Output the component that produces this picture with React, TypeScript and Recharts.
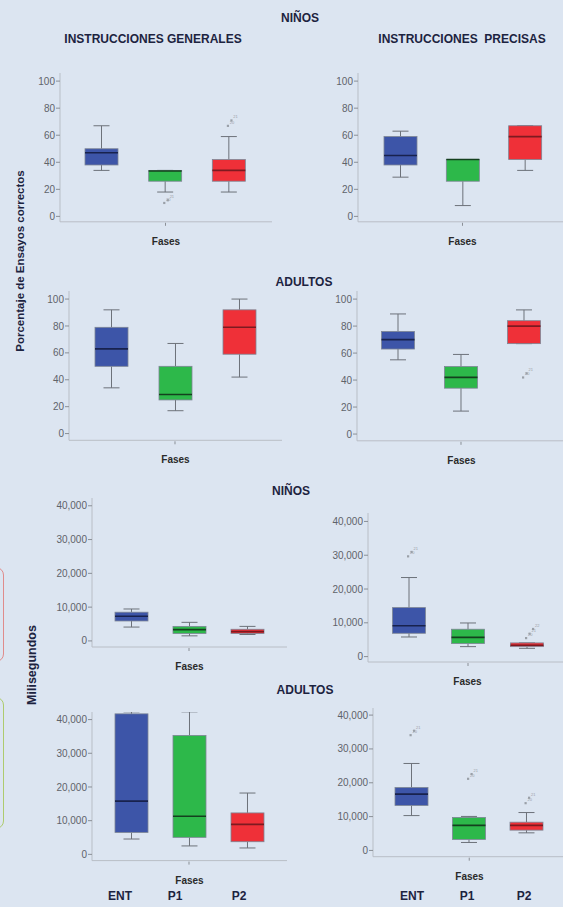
import React from 'react';
import { ComposedChart, Bar, XAxis, YAxis } from 'recharts';

// ---------- DATA ----------
const phases = ['ENT', 'P1', 'P2'];
// panel order: 0 Niños-generales %, 1 Niños-precisas %, 2 Adultos-generales %, 3 Adultos-precisas %,
//              4 Niños-generales ms, 5 Niños-precisas ms, 6 Adultos-generales ms, 7 Adultos-precisas ms
const whiskerLow = [
  [34, 18, 18],
  [29, 8, 34],
  [34, 17, 42],
  [55, 17, 67],
  [4100, 1500, 1900],
  [5800, 2950, 2450],
  [4550, 2500, 1900],
  [10300, 2350, 5200],
];
const quartile1 = [
  [38, 26, 26],
  [38, 26, 42],
  [50, 25, 59],
  [63, 34, 67],
  [5900, 2200, 2200],
  [6900, 3850, 2950],
  [6500, 5050, 3750],
  [13300, 3250, 6000],
];
const medians = [
  [47, 33.5, 34],
  [45, 42, 59],
  [63, 29, 79],
  [70, 42, 80],
  [7300, 3350, 2750],
  [9150, 5700, 3350],
  [15800, 11300, 8900],
  [16650, 7400, 7400],
];
const quartile3 = [
  [50, 34, 42],
  [59, 42, 67],
  [79, 50, 92],
  [76, 50, 84],
  [8500, 4300, 3450],
  [14500, 8100, 4050],
  [41700, 35300, 12300],
  [18600, 9750, 8350],
];
const whiskerHigh = [
  [67, 34, 59],
  [63, 42, 67],
  [92, 67, 100],
  [89, 59, 92],
  [9450, 5500, 4300],
  [23400, 9950, 4050],
  [42300, 42300, 18200],
  [25700, 10050, 11200],
];
const outliers = [
  [[], [10, 12], [67, 71]],
  [[], [], []],
  [[], [], []],
  [[], [], [42, 45]],
  [[], [], []],
  [[29700, 31000], [], [5500, 6800, 8200]],
  [[], [], []],
  [[34100, 35400], [21200, 22600], [14000, 15600]],
];
const percentTicks = [0, 20, 40, 60, 80, 100];
const msTicks = [0, 10000, 20000, 30000, 40000];

// ---------- STYLE / LAYOUT ----------
const boxColors = ['#3d55a8', '#2db84a', '#ef3038'];
const medianColors = ['#18224d', '#14401e', '#7d1a20'];
const BG = '#dce5f1';

const layout = [
  { left: 60, top: 72.6, bottom: 221.4, right: 272, padL: 10, padR: 11, domain: [-4, 106], ticks: percentTicks },
  { left: 358, top: 72.6, bottom: 221.4, right: 567, padL: 11, padR: 11, domain: [-4, 106], ticks: percentTicks },
  { left: 69, top: 290.7, bottom: 440, right: 282, padL: 10, padR: 11, domain: [-5, 106], ticks: percentTicks },
  { left: 357, top: 290.7, bottom: 440.5, right: 566, padL: 9.5, padR: 10.5, domain: [-5, 106], ticks: percentTicks },
  { left: 92, top: 497.7, bottom: 646.7, right: 287, padL: 10, padR: 11, domain: [-1800, 42300], ticks: msTicks },
  { left: 368, top: 513.3, bottom: 662.3, right: 567, padL: 11.5, padR: 10.5, domain: [-1600, 42500], ticks: msTicks },
  { left: 92, top: 711.7, bottom: 860.3, right: 287, padL: 10, padR: 11, domain: [-1850, 42250], ticks: msTicks },
  { left: 373, top: 708.3, bottom: 857, right: 566, padL: 10, padR: 10.5, domain: [-1850, 42100], ticks: msTicks },
];

const BoxShape = (props: any) => {
  const { x, y, width, height, payload, index } = props;
  const { low, q1, med, q3, high, out } = payload;
  const sc = (v: number) => y + (height * (high - v)) / (high - low);
  const cx = x + width / 2;
  const cap = 16;
  const wStroke = '#6c7179';
  return (
    <g>
      <line x1={cx} x2={cx} y1={sc(high)} y2={sc(q3)} stroke={wStroke} strokeWidth={1} />
      <line x1={cx} x2={cx} y1={sc(q1)} y2={sc(low)} stroke={wStroke} strokeWidth={1} />
      <line x1={cx - cap / 2} x2={cx + cap / 2} y1={sc(high)} y2={sc(high)} stroke={wStroke} strokeWidth={1} />
      <line x1={cx - cap / 2} x2={cx + cap / 2} y1={sc(low)} y2={sc(low)} stroke={wStroke} strokeWidth={1} />
      <rect
        x={x}
        y={sc(q3)}
        width={width}
        height={Math.max(sc(q1) - sc(q3), 1)}
        fill={boxColors[index]}
        stroke="#7d8595"
        strokeWidth={0.8}
      />
      <line x1={x} x2={x + width} y1={sc(med)} y2={sc(med)} stroke={medianColors[index]} strokeWidth={1.6} />
      {out.map((v: number, k: number) => (
        <g key={k}>
          <rect x={cx - 2 + k * 3.5} y={sc(v) - 1} width={2.2} height={2.2} fill="#9aa0a8" />
          <text x={cx + 1 + k * 3.5} y={sc(v) - 2} fontSize={4} fill="#9aa0a8">
            {k + 20}
          </text>
        </g>
      ))}
    </g>
  );
};

const CenterTick = (props: any) => {
  const { x, y, index } = props;
  if (index !== 1) return <g />;
  return <line x1={x} x2={x} y1={y + 1} y2={y + 4} stroke="#8a8f96" strokeWidth={1} />;
};

const fmt = (v: number) => (v >= 1000 ? v.toLocaleString('en-US') : String(v));

function Panel({ i }: { i: number }) {
  const g = layout[i];
  const data = phases.map((name, k) => ({
    name,
    range: [whiskerLow[i][k], whiskerHigh[i][k]],
    low: whiskerLow[i][k],
    q1: quartile1[i][k],
    med: medians[i][k],
    q3: quartile3[i][k],
    high: whiskerHigh[i][k],
    out: outliers[i][k],
  }));
  const yW = 40;
  const xH = 30;
  const width = g.right - g.left + yW;
  const height = g.bottom - g.top + xH;
  return (
    <div style={{ position: 'absolute', left: g.left - yW, top: g.top }}>
      <ComposedChart width={width} height={height} data={data} margin={{ top: 0, right: 0, bottom: 0, left: 0 }}>
        <XAxis
          dataKey="name"
          type="category"
          height={xH}
          padding={{ left: g.padL, right: g.padR }}
          axisLine={{ stroke: '#b9bec6' }}
          tickLine={false}
          tickSize={0}
          tickMargin={0}
          tick={<CenterTick />}
          label={{ value: 'Fases', position: 'insideBottom', offset: 7, fill: '#2a2a2a', fontSize: 10, fontWeight: 'bold' }}
        />
        <YAxis
          type="number"
          width={yW}
          domain={g.domain}
          allowDataOverflow
          ticks={g.ticks}
          interval={0}
          tickFormatter={fmt}
          tickSize={4}
          tickMargin={1}
          tickLine={{ stroke: '#8a8f96' }}
          axisLine={{ stroke: '#b9bec6' }}
          tick={{ fontSize: 10, fill: '#5f636a' }}
        />
        <Bar dataKey="range" barSize={33} shape={BoxShape} isAnimationActive={false} />
      </ComposedChart>
    </div>
  );
}

const T = ({ x, y, size = 12, children, rotate = false, pre = false }: any) => (
  <div
    style={{
      position: 'absolute',
      left: x,
      top: y,
      transform: `translate(-50%, -50%)${rotate ? ' rotate(-90deg)' : ''}`,
      whiteSpace: pre ? 'pre' : 'nowrap',
      fontWeight: 'bold',
      fontSize: size,
      color: '#1c2340',
      lineHeight: 1,
    }}
  >
    {children}
  </div>
);

export default function App() {
  return (
    <div
      style={{
        position: 'absolute',
        left: 0,
        top: 0,
        width: 563,
        height: 907,
        background: BG,
        overflow: 'hidden',
        fontFamily: '"Liberation Sans", Arial, sans-serif',
      }}
    >
      {/* decorative rounded frames at left edge */}
      <div style={{ position: 'absolute', left: -20, top: 567, width: 22, height: 93, border: '1px solid #e08c8c', borderRadius: 8 }} />
      <div style={{ position: 'absolute', left: -20, top: 697, width: 22, height: 130, border: '1px solid #aecb6e', borderRadius: 8 }} />

      {layout.map((_, i) => (
        <Panel key={i} i={i} />
      ))}

      <T x={300} y={18}>NIÑOS</T>
      <T x={153} y={39}>INSTRUCCIONES GENERALES</T>
      <T x={462} y={39} pre>INSTRUCCIONES  PRECISAS</T>
      <T x={304} y={282}>ADULTOS</T>
      <T x={291} y={491}>NIÑOS</T>
      <T x={305} y={690}>ADULTOS</T>

      <T x={21} y={261} size={11.5} rotate>Porcentaje de Ensayos correctos</T>
      <T x={32} y={665} size={12.5} rotate>Milisegundos</T>

      <T x={120} y={896}>ENT</T>
      <T x={175} y={896}>P1</T>
      <T x={239} y={896}>P2</T>
      <T x={412} y={896}>ENT</T>
      <T x={467} y={896}>P1</T>
      <T x={524} y={896}>P2</T>
    </div>
  );
}
